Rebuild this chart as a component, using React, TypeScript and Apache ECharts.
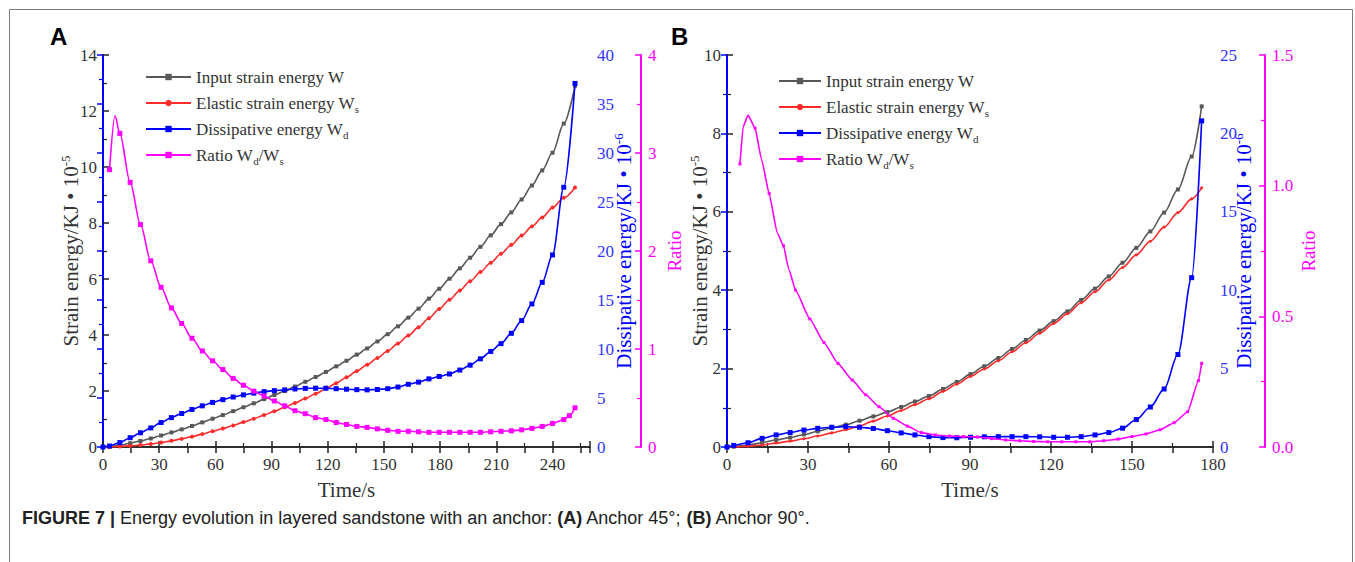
import React, { useEffect, useRef } from 'react';
import * as echarts from 'echarts';

// ---------- Panel A (Anchor 45°) ----------
const tA = [0, 3.5, 9, 14.5, 20, 25.5, 31, 36.5, 42, 47.5, 53, 58.5, 64, 69.5, 75, 80.5, 86, 91.5, 97, 102.5, 108, 113.5, 119, 124.5, 130, 135.5, 141, 146.5, 152, 157.5, 163, 168.5, 174, 179.5, 185, 190.5, 196, 201.5, 207, 212.5, 218, 223.5, 229, 234.5, 240, 246, 252];
const inputA = [0, 0.01, 0.065, 0.135, 0.215, 0.305, 0.41, 0.52, 0.63, 0.75, 0.88, 1.01, 1.14, 1.28, 1.42, 1.56, 1.71, 1.86, 2.0, 2.16, 2.33, 2.5, 2.68, 2.88, 3.08, 3.3, 3.52, 3.77, 4.03, 4.31, 4.62, 4.94, 5.3, 5.65, 6.01, 6.38, 6.76, 7.15, 7.56, 7.96, 8.38, 8.84, 9.34, 9.88, 10.51, 11.55, 12.9];
const elasticA = [0, 0, 0.02, 0.04, 0.07, 0.11, 0.16, 0.22, 0.29, 0.37, 0.46, 0.56, 0.66, 0.77, 0.89, 1.01, 1.14, 1.28, 1.42, 1.57, 1.73, 1.9, 2.08, 2.28, 2.49, 2.71, 2.94, 3.18, 3.43, 3.7, 3.98, 4.28, 4.6, 4.93, 5.26, 5.59, 5.92, 6.25, 6.58, 6.9, 7.22, 7.55, 7.88, 8.2, 8.55, 8.9, 9.27];
const dissipA = [0, 0.1, 0.45, 0.95, 1.45, 1.95, 2.5, 3.0, 3.42, 3.83, 4.2, 4.55, 4.83, 5.1, 5.32, 5.5, 5.65, 5.75, 5.83, 5.92, 5.98, 6.0, 6.0, 5.95, 5.9, 5.85, 5.83, 5.87, 5.95, 6.12, 6.4, 6.62, 6.95, 7.2, 7.45, 7.85, 8.35, 9.0, 9.75, 10.55, 11.6, 12.9, 14.6, 16.8, 19.6, 26.5, 37.1];
const tRatioA = [3.5, 6.4, 9, 14.5, 20, 25.5, 31, 36.5, 42, 47.5, 53, 58.5, 64, 69.5, 75, 80.5, 86, 91.5, 97, 102.5, 108, 113.5, 119, 124.5, 130, 135.5, 141, 146.5, 152, 157.5, 163, 168.5, 174, 179.5, 185, 190.5, 196, 201.5, 207, 212.5, 218, 223.5, 229, 234.5, 240, 246, 249, 252];
const ratioA = [2.83, 3.38, 3.2, 2.7, 2.27, 1.9, 1.63, 1.42, 1.26, 1.11, 0.98, 0.88, 0.79, 0.7, 0.63, 0.57, 0.52, 0.47, 0.42, 0.37, 0.34, 0.3, 0.28, 0.25, 0.23, 0.21, 0.2, 0.185, 0.17, 0.16, 0.16, 0.155, 0.15, 0.15, 0.15, 0.15, 0.15, 0.15, 0.155, 0.16, 0.165, 0.175, 0.19, 0.21, 0.24, 0.28, 0.32, 0.4];
const ratioVertexOnlyA = [1];

// ---------- Panel B (Anchor 90°) ----------
const tB = [0, 2.5, 7.8, 13, 18.2, 23.4, 28.5, 33.6, 38.8, 44, 49.1, 54.2, 59.4, 64.5, 69.6, 74.8, 80, 85.1, 90.2, 95.3, 100.5, 105.6, 110.7, 115.8, 121, 126.1, 131.2, 136.3, 141.4, 146.5, 151.6, 156.8, 161.9, 167, 172.1, 175.8];
const inputB = [0, 0.01, 0.05, 0.11, 0.18, 0.24, 0.32, 0.4, 0.49, 0.57, 0.67, 0.78, 0.89, 1.02, 1.16, 1.3, 1.48, 1.66, 1.86, 2.06, 2.27, 2.5, 2.73, 2.97, 3.21, 3.46, 3.75, 4.04, 4.35, 4.7, 5.08, 5.5, 5.98, 6.57, 7.41, 8.69];
const elasticB = [0, 0, 0.02, 0.05, 0.1, 0.15, 0.21, 0.28, 0.36, 0.44, 0.54, 0.66, 0.79, 0.93, 1.08, 1.23, 1.42, 1.6, 1.8, 1.99, 2.2, 2.43, 2.66, 2.9, 3.15, 3.4, 3.68, 3.96, 4.26, 4.58, 4.9, 5.25, 5.61, 5.98, 6.33, 6.61];
const dissipB = [0, 0.1, 0.27, 0.55, 0.77, 0.92, 1.08, 1.19, 1.26, 1.3, 1.26, 1.18, 1.04, 0.9, 0.77, 0.66, 0.6, 0.59, 0.62, 0.65, 0.66, 0.66, 0.66, 0.65, 0.62, 0.62, 0.66, 0.77, 0.92, 1.2, 1.75, 2.55, 3.7, 5.9, 10.8, 20.8];
const tRatioB = [4.8, 6.0, 7.8, 10.4, 12.8, 15.6, 18.6, 20.9, 22.9, 25.4, 30.7, 35.9, 41.1, 46.4, 51.4, 56.3, 61.6, 66.8, 72, 77.2, 82.4, 87.6, 92.8, 98, 103.2, 108.4, 113.6, 118.8, 124, 129.2, 134.4, 139.6, 144.8, 150, 155.2, 160.4, 165.6, 170.6, 174.6, 175.8];
const ratioB = [1.083, 1.226, 1.27, 1.22, 1.1, 0.97, 0.82, 0.77, 0.68, 0.6, 0.49, 0.4, 0.32, 0.256, 0.2, 0.154, 0.11, 0.08, 0.055, 0.046, 0.042, 0.04, 0.038, 0.032, 0.027, 0.024, 0.021, 0.02, 0.02, 0.02, 0.02, 0.024, 0.03, 0.04, 0.05, 0.066, 0.093, 0.135, 0.254, 0.32];
const ratioVertexOnlyB = [1, 2, 4, 6, 8];

// ---------- Text ----------
const seriesNames = ['Input strain energy W', 'Elastic strain energy Ws', 'Dissipative energy Wd', 'Ratio Wd/Ws'];
const legendLabels: Record<string, string> = {
  'Input strain energy W': 'Input strain energy W',
  'Elastic strain energy Ws': 'Elastic strain energy W{sub|s}',
  'Dissipative energy Wd': 'Dissipative energy W{sub|d}',
  'Ratio Wd/Ws': 'Ratio W{sub|d}/W{sub|s}',
};
const xName = 'Time/s';
const leftName = 'Strain energy/KJ • 10{sup|-5}';
const blueName = 'Dissipative energy/KJ • 10{sup|-6}';
const ratioName = 'Ratio';
const caption = '{b|FIGURE 7 |} Energy evolution in layered sandstone with an anchor: {b|(A)} Anchor 45°; {b|(B)} Anchor 90°.';

const SERIF = 'Liberation Serif';
const SANS = 'Liberation Sans';
const GRAY = '#585858';
const RED = '#ff2b2b';
const BLUE = '#0000ff';
const MAG = '#ff00ff';
const INK = '#333333';
const LABEL_SIZE = 17;

const pairs = (t: number[], v: number[]) => t.map((x, i) => [x, v[i]]);
const withVertices = (t: number[], v: number[], hidden: number[]) =>
  t.map((x, i) => (hidden.includes(i) ? { value: [x, v[i]], symbol: 'none' } : { value: [x, v[i]] }));

const supRich = {
  sup: { fontSize: 13, lineHeight: 12, verticalAlign: 'top', fontFamily: SERIF },
};

// tick labels: rich text so that size and family are set on the text itself
const tickLabel = (color: string, margin: number, fmt: (v: number) => string, extra: any = {}) => ({
  show: true,
  margin,
  color,
  fontSize: LABEL_SIZE,
  fontFamily: SERIF,
  fontStyle: 'normal',
  fontWeight: 'normal',
  formatter: (v: number) => '{t|' + fmt(v) + '}',
  rich: { t: { fontSize: LABEL_SIZE, fontFamily: SERIF, color, fontWeight: 'normal', lineHeight: LABEL_SIZE + 2 } },
  ...extra,
});

function xAxes(grid: number, max: number) {
  return [
    {
      gridIndex: grid, type: 'value', position: 'bottom', min: 0, max, interval: 30,
      axisLine: { show: true, lineStyle: { color: '#222', width: 1.5 } },
      axisTick: { show: true, inside: true, length: 6, lineStyle: { color: '#222', width: 1.5 } },
      minorTick: { show: true, splitNumber: 2, length: 4, lineStyle: { color: '#222', width: 1.2 } },
      axisLabel: tickLabel(INK, 8, (v) => String(v), { showMaxLabel: max % 30 === 0 }),
      splitLine: { show: false },
      name: xName, nameLocation: 'middle', nameGap: 32, nameMoveOverlap: false,
      nameTextStyle: { fontSize: 21, fontFamily: SERIF, color: INK },
    },
    {
      gridIndex: grid, type: 'value', position: 'top', min: 0, max, interval: 15,
      axisLine: { show: true, lineStyle: { color: '#222', width: 1.5 } },
      axisTick: { show: true, inside: true, length: 6, lineStyle: { color: '#222', width: 1.5 } },
      axisLabel: { show: false },
      splitLine: { show: false },
    },
  ];
}

function yAxes(grid: number, leftMax: number, blueMax: number, ratioMax: number, ratioInterval: number, ratioOffset: number, ratioFmt: (v: number) => string, gaps: number[]) {
  return [
    {
      gridIndex: grid, type: 'value', position: 'left', min: 0, max: leftMax, interval: 2,
      axisLine: { show: true, lineStyle: { color: '#222', width: 1.5 } },
      axisTick: { show: true, inside: true, length: 6, lineStyle: { color: '#222', width: 1.5 } },
      minorTick: { show: true, splitNumber: 2, length: 4, lineStyle: { color: '#222', width: 1.2 } },
      axisLabel: tickLabel(INK, 6, (v) => String(v)),
      splitLine: { show: false },
      name: leftName, nameLocation: 'middle', nameGap: gaps[0], nameMoveOverlap: false,
      nameTextStyle: { fontSize: 21, lineHeight: 24, fontFamily: SERIF, color: INK, rich: supRich },
    },
    {
      gridIndex: grid, type: 'value', position: 'right', min: 0, max: blueMax, interval: 5,
      axisLine: { show: true, lineStyle: { color: BLUE, width: 2 } },
      axisTick: { show: true, inside: true, length: 6, lineStyle: { color: BLUE, width: 1.5 } },
      minorTick: { show: true, splitNumber: 2, length: 4, lineStyle: { color: BLUE, width: 1.2 } },
      axisLabel: tickLabel('#3333ff', 7, (v) => String(v)),
      splitLine: { show: false },
      name: blueName, nameLocation: 'middle', nameGap: gaps[1], nameMoveOverlap: false,
      nameTextStyle: { fontSize: 21, lineHeight: 24, fontFamily: SERIF, color: BLUE, rich: supRich },
    },
    {
      gridIndex: grid, type: 'value', position: 'right', offset: ratioOffset, min: 0, max: ratioMax, interval: ratioInterval,
      axisLine: { show: true, lineStyle: { color: MAG, width: 2 } },
      axisTick: { show: true, inside: true, length: 6, lineStyle: { color: MAG, width: 1.5 } },
      minorTick: { show: true, splitNumber: 2, length: 4, lineStyle: { color: MAG, width: 1.2 } },
      axisLabel: tickLabel(MAG, 7, ratioFmt),
      splitLine: { show: false },
      name: ratioName, nameLocation: 'middle', nameGap: gaps[2], nameMoveOverlap: false,
      nameTextStyle: { fontSize: 19, fontFamily: SERIF, color: MAG },
    },
  ];
}

function panelSeries(xi: number, yi: number, t: number[], input: number[], elastic: number[], dissip: number[], tr: number[], ratio: number[], hidden: number[], small: boolean) {
  const common = { type: 'line', xAxisIndex: xi, smooth: 0.3, smoothMonotone: 'x', animation: false };
  return [
    { ...common, name: seriesNames[0], yAxisIndex: yi, data: pairs(t, input), symbol: 'rect', symbolSize: 4,
      lineStyle: { color: GRAY, width: 1.6 }, itemStyle: { color: GRAY }, z: 3 },
    { ...common, name: seriesNames[1], yAxisIndex: yi, data: pairs(t, elastic), symbol: 'circle', symbolSize: small ? 3 : 4,
      lineStyle: { color: RED, width: 1.6 }, itemStyle: { color: RED }, z: 4 },
    { ...common, name: seriesNames[2], yAxisIndex: yi + 1, data: pairs(t, dissip), symbol: 'rect', symbolSize: 5,
      lineStyle: { color: BLUE, width: 1.6 }, itemStyle: { color: BLUE }, z: 5 },
    { ...common, name: seriesNames[3], yAxisIndex: yi + 2, data: withVertices(tr, ratio, hidden), symbol: 'rect', symbolSize: small ? 3 : 5,
      smooth: small ? 0.15 : 0.3, lineStyle: { color: MAG, width: 1.6 }, itemStyle: { color: MAG }, z: 6 },
  ];
}

function legendOf(left: number, top: number, width: number) {
  return {
    orient: 'vertical', left, top, itemWidth: width, itemHeight: 8, itemGap: 4,
    selectedMode: false, data: seriesNames,
    formatter: (n: string) => legendLabels[n],
    textStyle: {
      fontFamily: SERIF, fontSize: 17, color: INK, lineHeight: 22,
      rich: { sub: { fontFamily: SERIF, fontSize: 11, lineHeight: 11, verticalAlign: 'bottom', color: INK } },
    },
  };
}

const option = {
  animation: false,
  backgroundColor: '#ffffff',
  textStyle: { fontFamily: SERIF, fontSize: LABEL_SIZE },
  grid: [
    { left: 103, top: 55, width: 487, height: 392 },
    { left: 727, top: 55, width: 486, height: 392 },
  ],
  xAxis: [...xAxes(0, 260), ...xAxes(1, 180)],
  yAxis: [
    ...yAxes(0, 14, 40, 4, 1, 51, (v: number) => String(v), [20, 22, 24]),
    ...yAxes(1, 10, 25, 1.5, 0.5, 52, (v: number) => v.toFixed(1), [15, 19, 34]),
  ],
  legend: [legendOf(140, 61, 45), legendOf(773, 65, 42)],
  series: [
    ...panelSeries(0, 0, tA, inputA, elasticA, dissipA, tRatioA, ratioA, ratioVertexOnlyA, false),
    ...panelSeries(2, 3, tB, inputB, elasticB, dissipB, tRatioB, ratioB, ratioVertexOnlyB, true),
  ],
  graphic: [
    { type: 'rect', silent: true, shape: { x: 9.5, y: 9.5, width: 1343, height: 620 },
      style: { fill: 'none', stroke: '#7a7a7a', lineWidth: 1 } },
    { type: 'text', x: 50, y: 24, style: { text: 'A', fontFamily: SANS, fontSize: 24, fontWeight: 'bold', fill: '#000' } },
    { type: 'text', x: 671, y: 24, style: { text: 'B', fontFamily: SANS, fontSize: 24, fontWeight: 'bold', fill: '#000' } },
    { type: 'text', x: 22, y: 509, style: {
      text: caption, fontFamily: SANS, fontSize: 18, fill: '#222',
      rich: { b: { fontFamily: SANS, fontSize: 18, fontWeight: 'bold', fill: '#222' } },
    } },
  ],
};

export default function App() {
  const ref = useRef<HTMLDivElement>(null);
  useEffect(() => {
    const chart = echarts.init(ref.current as HTMLDivElement, null, { renderer: 'svg' });
    chart.setOption(option as any);
    return () => chart.dispose();
  }, []);
  return (
    <div
      ref={ref}
      style={{ position: 'fixed', left: 0, top: 0, width: 1355, height: 562, background: '#fff' }}
    />
  );
}
